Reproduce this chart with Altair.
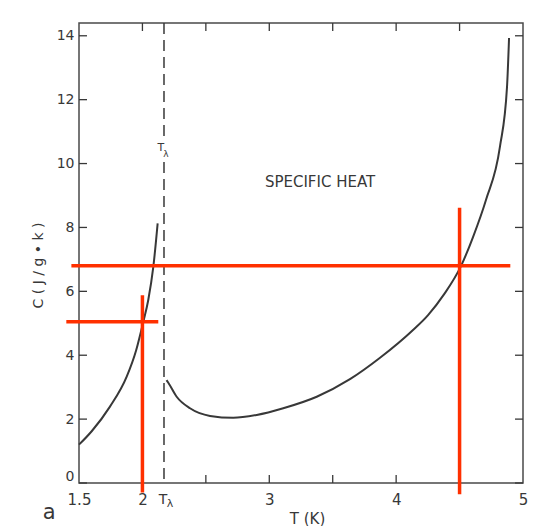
import altair as alt
import pandas as pd

# ---- data ----
left_T = [1.5, 1.6, 1.744, 1.876, 1.95, 2.007, 2.046, 2.086, 2.12]
left_C = [1.2, 1.62, 2.39, 3.33, 4.15, 5.05, 5.73, 6.77, 8.13]

right_T = [2.19, 2.204, 2.27, 2.375, 2.533, 2.716, 2.901, 3.11, 3.374, 3.636,
           3.873, 4.133, 4.25, 4.38, 4.511, 4.606, 4.708, 4.818, 4.874, 4.89]
right_C = [3.22, 3.14, 2.70, 2.34, 2.10, 2.04, 2.13, 2.34, 2.70, 3.25,
           3.92, 4.79, 5.25, 5.92, 6.79, 7.70, 8.86, 10.52, 12.40, 13.93]

T_lambda = 2.17
x_tick_values = [1.5, 2, 3, 4, 5]
y_tick_values = [0, 2, 4, 6, 8, 10, 12, 14]
minor_x = [2, 2.5, 3, 3.5, 4, 4.5]

# red guide lines (x, x2, y, y2) in data units
red_x = [1.44, 4.50, 1.40, 2.0]
red_x2 = [4.90, 4.50, 2.125, 2.0]
red_y = [6.8, 8.62, 5.05, 5.88]
red_y2 = [6.8, -0.35, 5.05, -0.3]

INK = "#383838"
FONT = "DejaVu Sans"
RED = "#ff3000"

xs = alt.Scale(domain=[1.5, 5], nice=False, zero=False)
ys = alt.Scale(domain=[0, 14.4], nice=False, zero=False)

curves = pd.DataFrame({
    "T": left_T + right_T,
    "C": left_C + right_C,
    "branch": ["below"] * len(left_T) + ["above"] * len(right_T),
})

base_x = alt.X("T:Q", scale=xs,
               axis=alt.Axis(values=x_tick_values, format="~g", ticks=False,
                             domain=False, grid=False, labelFontSize=15,
                             labelFlush=False, labelPadding=9, labelFont=FONT,
                             labelColor=INK,
                             title="T (K)", titleFont=FONT, titleFontSize=15,
                             titleColor=INK, titleFontWeight="normal",
                             titleX=228, titleY=35, titleBaseline="middle"))
base_y = alt.Y("C:Q", scale=ys,
               axis=alt.Axis(values=y_tick_values, ticks=False, domain=False,
                             grid=False, labelFontSize=14, labelPadding=5,
                             labelFlush=True,
                             labelFont=FONT, labelColor=INK,
                             title="C ( J / g • k )", titleFont=FONT,
                             titleFontSize=14, titleColor=INK,
                             titleFontWeight="normal", titleX=-41, titleY=242,
                             titleBaseline="middle", titleAlign="center"))

line = alt.Chart(curves).mark_line(color=INK, strokeWidth=2, interpolate="monotone").encode(
    x=base_x, y=base_y, detail="branch:N")

# dashed lambda line (two segments around its label)
dash_df = pd.DataFrame({"x": [T_lambda, T_lambda], "y": [14.4, 10.05], "y2": [10.8, 0]})
dash = alt.Chart(dash_df).mark_rule(color=INK, strokeWidth=1.5, strokeDash=[11, 6]).encode(
    x=alt.X("x:Q", scale=xs), y=alt.Y("y:Q", scale=ys), y2="y2:Q")

# inward ticks
tick_rows = []
for v in y_tick_values:
    tick_rows.append({"x": 1.5, "x2": 1.563, "y": v, "y2": v})
    tick_rows.append({"x": 5.0, "x2": 4.937, "y": v, "y2": v})
for v in minor_x:
    tick_rows.append({"x": v, "x2": v, "y": 0, "y2": 0.25})
    tick_rows.append({"x": v, "x2": v, "y": 14.4, "y2": 14.15})
ticks = alt.Chart(pd.DataFrame(tick_rows)).mark_rule(color=INK, strokeWidth=1.3).encode(
    x=alt.X("x:Q", scale=xs), x2="x2:Q", y=alt.Y("y:Q", scale=ys), y2="y2:Q")

red_df = pd.DataFrame({"x": red_x, "x2": red_x2, "y": red_y, "y2": red_y2})
red = alt.Chart(red_df).mark_rule(color=RED, strokeWidth=3.5).encode(
    x=alt.X("x:Q", scale=xs), x2="x2:Q", y=alt.Y("y:Q", scale=ys), y2="y2:Q")

# text annotations
txt_df = pd.DataFrame({
    "x": [3.40, 2.145, 2.185, 2.162, 2.218, 1.265],
    "y": [9.41, 10.5, 10.3, -0.52, -0.65, -0.95],
    "label": ["SPECIFIC  HEAT", "T", "λ", "T", "λ", "a"],
    "size": [15, 11, 9, 14, 11, 21],
})
texts = alt.Chart(txt_df).mark_text(font=FONT, color=INK, baseline="middle", align="center").encode(
    x=alt.X("x:Q", scale=xs), y=alt.Y("y:Q", scale=ys), text="label:N",
    size=alt.Size("size:Q", scale=None, legend=None))

chart = alt.layer(line, dash, ticks, red, texts).properties(
    width=444, height=460,
    padding={"left": 71, "top": 15, "right": 10, "bottom": 43},
    autosize=alt.AutoSizeParams(type="none"),
    background="white",
).configure_view(stroke="#4a4a4a", strokeWidth=1.5)

chart.save("out.html", embed_options={"renderer": "svg", "actions": False})
